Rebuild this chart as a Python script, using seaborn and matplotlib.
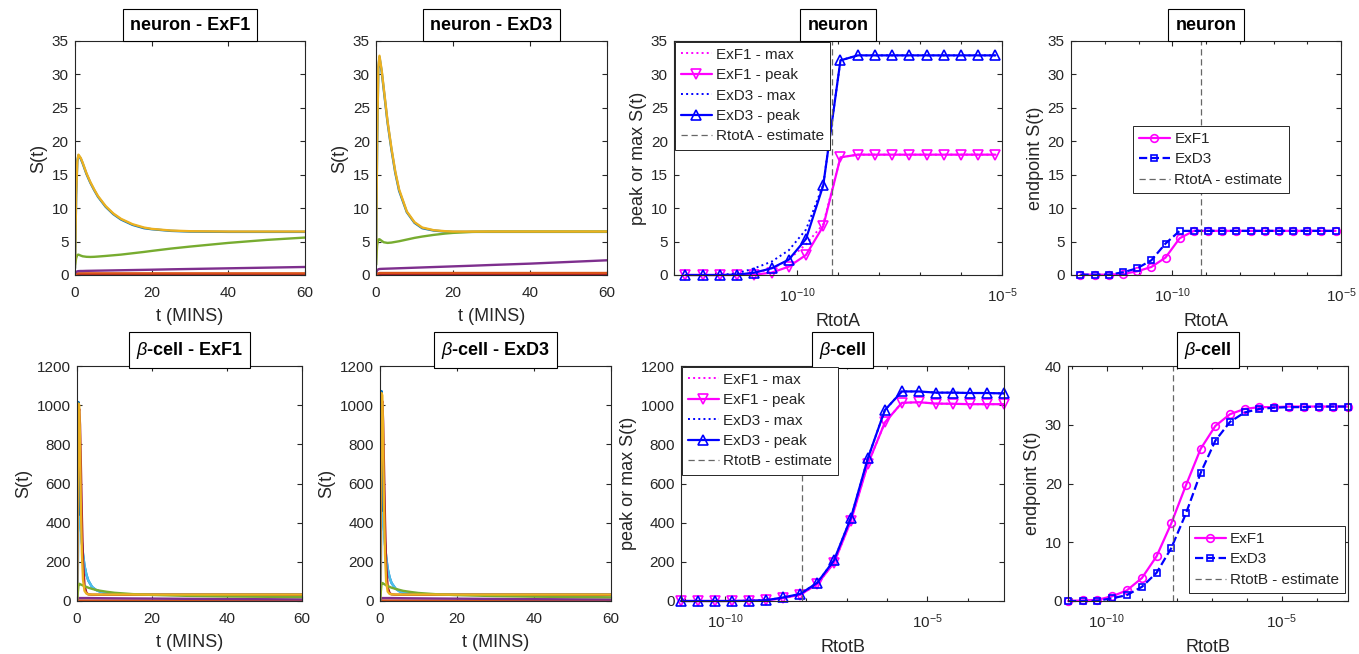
import matplotlib
matplotlib.use("Agg")
import matplotlib.pyplot as plt
import matplotlib.ticker as mticker
import numpy as np
import seaborn as sns

# ---------------------------------------------------------------- data
# time grids (minutes)
t_neuron = [0, 0.3, 0.6, 0.9, 1.5, 2, 3, 4, 5, 6, 8, 10, 12, 15, 18, 20, 25, 30, 40, 50, 60]
t_beta = [0, 0.2, 0.4, 0.6, 0.8, 1.0, 1.3, 1.6, 2, 2.5, 3, 4, 5, 6, 8, 10, 15, 20, 30, 40, 60]

# neuron, ExF1 model: S(t) traces
nf1_blue = [1.0, 12, 17, 17.9, 17.4, 16.7, 15.1, 13.8, 12.7, 11.7, 10.2, 9.1, 8.3, 7.5, 7.0, 6.85, 6.6, 6.5, 6.45, 6.45, 6.45]
nf1_orange = [0, 0.18, 0.22, 0.25, 0.25, 0.25, 0.25, 0.25, 0.25, 0.25, 0.25, 0.25, 0.25, 0.25, 0.25, 0.25, 0.25, 0.25, 0.25, 0.25, 0.25]
nf1_yellow = [1.0, 12, 17, 18.0, 17.5, 16.8, 15.2, 13.9, 12.8, 11.8, 10.3, 9.2, 8.4, 7.6, 7.1, 6.9, 6.65, 6.55, 6.5, 6.5, 6.5]
nf1_purple = [0.3, 0.45, 0.55, 0.58, 0.6, 0.6, 0.62, 0.63, 0.64, 0.65, 0.67, 0.69, 0.71, 0.74, 0.77, 0.79, 0.85, 0.9, 1.0, 1.1, 1.2]
nf1_green = [1.5, 2.5, 3.0, 3.05, 2.9, 2.8, 2.72, 2.7, 2.72, 2.76, 2.85, 2.95, 3.05, 3.25, 3.45, 3.6, 3.95, 4.25, 4.8, 5.25, 5.6]
nf1_lblue = [0, 0, 0, 0, 0, 0, 0, 0, 0, 0, 0, 0, 0, 0, 0, 0, 0, 0, 0, 0, 0]
nf1_dred = [0, 0, 0, 0, 0, 0, 0, 0, 0, 0, 0, 0, 0, 0, 0, 0, 0, 0, 0, 0, 0]

# neuron, ExD3 model
nd3_blue = [1.5, 20, 30.8, 32.6, 30.3, 27.8, 22.8, 18.8, 15.3, 12.6, 9.4, 7.8, 7.0, 6.65, 6.5, 6.45, 6.45, 6.45, 6.45, 6.45, 6.45]
nd3_orange = [0, 0.2, 0.25, 0.3, 0.3, 0.3, 0.3, 0.3, 0.3, 0.3, 0.3, 0.3, 0.3, 0.3, 0.3, 0.3, 0.3, 0.3, 0.3, 0.3, 0.3]
nd3_yellow = [1.5, 20, 31, 32.8, 30.5, 28, 23, 19, 15.5, 12.8, 9.5, 7.9, 7.1, 6.7, 6.55, 6.5, 6.5, 6.5, 6.5, 6.5, 6.5]
nd3_purple = [0.3, 0.7, 0.85, 0.9, 0.92, 0.93, 0.95, 0.97, 0.99, 1.01, 1.05, 1.09, 1.13, 1.19, 1.25, 1.29, 1.39, 1.5, 1.7, 1.95, 2.2]
nd3_green = [1.5, 4.5, 5.3, 5.35, 5.1, 4.9, 4.8, 4.85, 4.95, 5.05, 5.3, 5.55, 5.75, 6.0, 6.2, 6.3, 6.45, 6.5, 6.5, 6.5, 6.5]
nd3_lblue = [0, 0, 0, 0, 0, 0, 0, 0, 0, 0, 0, 0, 0, 0, 0, 0, 0, 0, 0, 0, 0]
nd3_dred = [0, 0.02, 0.03, 0.03, 0.03, 0.03, 0.03, 0.03, 0.03, 0.03, 0.03, 0.03, 0.03, 0.03, 0.03, 0.03, 0.03, 0.03, 0.03, 0.03, 0.03]

# beta-cell, ExF1 model
bf1_blue = [0, 650, 1016, 600, 440, 380, 300, 240, 180, 135, 105, 72, 57, 49, 40, 36, 33.5, 33, 33, 33, 33]
bf1_orange = [0, 2, 2.5, 2.5, 2.5, 2.5, 2.5, 2.5, 2.5, 2.5, 2.5, 2.5, 2.5, 2.5, 2.5, 2.5, 2.5, 2.5, 2.5, 2.5, 2.5]
bf1_yellow = [0, 560, 1008, 1000, 820, 520, 250, 110, 52, 38, 34, 33, 33, 33, 33, 33, 33, 33, 33, 33, 33]
bf1_purple = [0, 10, 15, 15, 15, 15, 15, 15, 15, 15, 15, 14.8, 14.5, 14.3, 14, 13.7, 13, 12.5, 11, 10, 8]
bf1_green = [0, 40, 80, 88, 86, 84, 82, 79, 76, 72, 68, 62, 57, 53, 47, 42, 35, 31, 26, 23, 20]
bf1_lblue = [0, 100, 400, 430, 420, 380, 300, 240, 180, 135, 105, 72, 57, 49, 40, 36, 33.5, 33, 33, 33, 33]
bf1_dred = [0, 500, 960, 980, 900, 720, 430, 200, 80, 42, 34, 32, 32, 32, 32, 32, 32, 32, 32, 32, 32]

# beta-cell, ExD3 model
bd3_blue = [0, 700, 1072, 640, 460, 380, 290, 225, 165, 120, 92, 64, 50, 43, 37, 35, 33.3, 33, 33, 33, 33]
bd3_orange = [0, 2, 2.5, 2.5, 2.5, 2.5, 2.5, 2.5, 2.5, 2.5, 2.5, 2.5, 2.5, 2.5, 2.5, 2.5, 2.5, 2.5, 2.5, 2.5, 2.5]
bd3_yellow = [0, 600, 1062, 1050, 850, 520, 240, 100, 48, 36, 34, 33, 33, 33, 33, 33, 33, 33, 33, 33, 33]
bd3_purple = [0, 10, 15, 15, 15, 15, 15, 15, 15, 15, 14.9, 14.7, 14.4, 14.2, 13.8, 13.5, 12.7, 12, 10.5, 9.3, 7.5]
bd3_green = [0, 45, 88, 92, 90, 87, 84, 80, 77, 72, 68, 62, 57, 52, 46, 41, 34, 30, 25, 22, 19]
bd3_lblue = [0, 100, 420, 450, 430, 380, 290, 225, 165, 120, 92, 64, 50, 43, 37, 35, 33.3, 33, 33, 33, 33]
bd3_dred = [0, 520, 1000, 1020, 920, 720, 410, 180, 70, 40, 34, 32, 32, 32, 32, 32, 32, 32, 32, 32, 32]

# receptor totals scanned (log10 of RtotA / RtotB)
rtotA_exp = [-12.72, -12.30, -11.88, -11.46, -11.04, -10.62, -10.20, -9.78, -9.36, -8.94,
             -8.52, -8.10, -7.68, -7.26, -6.84, -6.42, -6.00, -5.58, -5.16]
rtotA_estimate_exp = -9.15
rtotB_exp = [-11.10, -10.68, -10.26, -9.84, -9.42, -8.99, -8.57, -8.15, -7.73, -7.31,
             -6.89, -6.47, -6.05, -5.63, -5.21, -4.78, -4.36, -3.94, -3.52, -3.10]
rtotB_estimate_exp = -8.10

# neuron: peak / max / endpoint S(t) versus RtotA
peakA_exf1 = [0, 0, 0, 0, 0.05, 0.35, 1.25, 3.0, 7.3, 17.6, 18.0, 18.0, 18.0, 18.0, 18.0, 18.0, 18.0, 18.0, 18.0]
maxA_exf1 = [0, 0, 0, 0.05, 0.3, 0.9, 2.3, 4.6, 7.6, 17.6, 18.0, 18.0, 18.0, 18.0, 18.0, 18.0, 18.0, 18.0, 18.0]
peakA_exd3 = [0, 0, 0, 0.05, 0.35, 1.0, 2.3, 5.4, 13.4, 32.1, 32.85, 32.85, 32.85, 32.85, 32.85, 32.85, 32.85, 32.85, 32.85]
maxA_exd3 = [0, 0, 0, 0.25, 1.0, 2.0, 3.7, 6.8, 13.5, 32.1, 32.85, 32.85, 32.85, 32.85, 32.85, 32.85, 32.85, 32.85, 32.85]
endA_exf1 = [0.05, 0.05, 0.05, 0.15, 0.55, 1.2, 2.6, 5.5, 6.6, 6.6, 6.6, 6.6, 6.6, 6.6, 6.6, 6.6, 6.6, 6.6, 6.6]
endA_exd3 = [0.05, 0.05, 0.05, 0.4, 1.0, 2.2, 4.7, 6.6, 6.6, 6.6, 6.6, 6.6, 6.6, 6.6, 6.6, 6.6, 6.6, 6.6, 6.6]

# beta-cell: peak / max / endpoint S(t) versus RtotB
peakB_exf1 = [0, 0, 0, 0, 1, 3, 15, 32, 85, 195, 410, 700, 912, 1012, 1015, 1008, 1007, 1005, 1005, 1005]
maxB_exf1 = [0, 0, 0, 0, 1, 3, 15, 32, 85, 195, 410, 700, 912, 1012, 1015, 1008, 1007, 1005, 1005, 1005]
peakB_exd3 = [0, 0, 0, 0, 1, 4, 18, 36, 92, 208, 426, 730, 975, 1070, 1070, 1064, 1064, 1062, 1062, 1060]
maxB_exd3 = [0, 0, 0, 0, 1, 4, 18, 36, 92, 208, 426, 730, 975, 1070, 1070, 1064, 1064, 1062, 1062, 1060]
endB_exf1 = [0, 0.1, 0.2, 0.8, 1.8, 3.9, 7.6, 13.2, 19.7, 25.9, 29.8, 31.8, 32.7, 33.0, 33.0, 33.1, 33.1, 33.1, 33.1, 33.1]
endB_exd3 = [0, 0, 0.05, 0.45, 1.0, 2.4, 4.8, 9.0, 14.9, 21.8, 27.3, 30.5, 32.1, 32.7, 32.9, 33.0, 33.0, 33.1, 33.1, 33.1]

# ---------------------------------------------------------------- style
sns.set_theme(style="ticks")
plt.rcParams["font.family"] = ["Liberation Sans", "DejaVu Sans"]
plt.rcParams["mathtext.fontset"] = "custom"
plt.rcParams["mathtext.rm"] = "Liberation Sans"
plt.rcParams["mathtext.it"] = "Liberation Sans:italic"
plt.rcParams["mathtext.bf"] = "Liberation Sans:bold"

INK = (0.15, 0.15, 0.15)
C_BLUE = (0, 0.447, 0.741)
C_ORANGE = (0.85, 0.325, 0.098)
C_YELLOW = (0.929, 0.694, 0.125)
C_PURPLE = (0.494, 0.184, 0.556)
C_GREEN = (0.466, 0.674, 0.188)
C_LBLUE = (0.301, 0.745, 0.933)
C_DRED = (0.635, 0.078, 0.184)
# drawing order of the seven species traces (the yellow trace ends up on top)
TRACE_COLORS = [C_BLUE, C_LBLUE, C_DRED, C_ORANGE, C_PURPLE, C_GREEN, C_YELLOW]
MAGENTA = (1, 0, 1)
BLUE = (0, 0, 1)
GREY = (0.4, 0.4, 0.4)

W, H = 1359, 654
fig = plt.figure(figsize=(W / 100, H / 100), dpi=100)


def axes_px(x0, x1, y0, y1):
    return fig.add_axes([x0 / W, 1 - y1 / H, (x1 - x0) / W, (y1 - y0) / H])


def style_axes(ax, title, xlabel, ylabel):
    for s in ax.spines.values():
        s.set_visible(True)
        s.set_color(INK)
        s.set_linewidth(0.8)
    ax.tick_params(which="both", direction="in", top=True, right=True,
                   colors=INK, labelsize=11, width=0.8)
    ax.tick_params(axis="x", which="both", pad=8)
    ax.tick_params(axis="y", which="both", pad=4.5)
    ax.tick_params(which="major", length=3.5)
    ax.tick_params(which="minor", length=2.5)
    ax.set_xlabel(xlabel, fontsize=13, color=INK, labelpad=6)
    ax.set_ylabel(ylabel, fontsize=13, color=INK, labelpad=3)
    ax.set_title(title, fontsize=13, fontweight="bold", color="black", pad=8.2,
                 bbox=dict(boxstyle="square,pad=0.4", fc="white", ec="black", lw=0.8))


def timecourse(ax, t, series, ymax, yticks, title):
    for y, c in zip(series, TRACE_COLORS):
        sns.lineplot(x=t, y=y, ax=ax, color=c, linewidth=1.7, legend=False,
                     estimator=None, sort=False)
    ax.set_xlim(0, 60)
    ax.set_ylim(0, ymax)
    ax.set_xticks([0, 20, 40, 60])
    ax.set_yticks(yticks)
    style_axes(ax, title, "t (MINS)", "S(t)")


def log_axis(ax, lo, hi):
    ax.set_xscale("log")
    ax.set_xlim(lo, hi)
    ax.xaxis.set_major_locator(mticker.FixedLocator([1e-10, 1e-5]))
    ax.xaxis.set_major_formatter(mticker.LogFormatterSciNotation())
    minors = [10.0 ** k for k in range(-13, -2) if k not in (-10, -5)]
    ax.xaxis.set_minor_locator(mticker.FixedLocator(minors))
    ax.xaxis.set_minor_formatter(mticker.NullFormatter())


def legend(ax, anchor, loc):
    leg = ax.legend(loc=loc, bbox_to_anchor=anchor, borderaxespad=0, fontsize=11,
                    frameon=True, fancybox=False, framealpha=1, edgecolor=INK,
                    handlelength=2.0, handletextpad=0.3, labelspacing=0.42,
                    borderpad=0.4)
    leg.get_frame().set_linewidth(0.7)
    for txt in leg.get_texts():
        txt.set_color(INK)
    leg.set_zorder(10)


def peak_panel(ax, x, f1_max, f1_peak, d3_max, d3_peak, est, lo, hi, ymax, yticks,
               title, xlabel, est_label, anchor):
    ax.set_xscale("log")
    common = dict(ax=ax, estimator=None, sort=False, clip_on=False)
    sns.lineplot(x=x, y=f1_max, color=MAGENTA, linewidth=1.4, linestyle=":",
                 label="ExF1 - max", **common)
    sns.lineplot(x=x, y=f1_peak, color=MAGENTA, linewidth=1.6, marker="v",
                 markersize=6.5, markerfacecolor="none", markeredgecolor=MAGENTA,
                 markeredgewidth=1.2, label="ExF1 - peak", **common)
    sns.lineplot(x=x, y=d3_max, color=BLUE, linewidth=1.4, linestyle=":",
                 label="ExD3 - max", **common)
    sns.lineplot(x=x, y=d3_peak, color=BLUE, linewidth=1.6, marker="^",
                 markersize=6.5, markerfacecolor="none", markeredgecolor=BLUE,
                 markeredgewidth=1.2, label="ExD3 - peak", **common)
    ax.axvline(est, color=GREY, linestyle=(0, (5, 3)), linewidth=0.9, label=est_label)
    log_axis(ax, lo, hi)
    ax.set_ylim(0, ymax)
    ax.set_yticks(yticks)
    style_axes(ax, title, xlabel, "peak or max S(t)")
    legend(ax, anchor, "upper left")


def end_panel(ax, x, f1_end, d3_end, est, lo, hi, ymax, yticks, title, xlabel,
              est_label, anchor, loc):
    ax.set_xscale("log")
    common = dict(ax=ax, estimator=None, sort=False, clip_on=False)
    sns.lineplot(x=x, y=f1_end, color=MAGENTA, linewidth=1.6, marker="o",
                 markersize=5.5, markerfacecolor="none", markeredgecolor=MAGENTA,
                 markeredgewidth=1.2, label="ExF1", **common)
    sns.lineplot(x=x, y=d3_end, color=BLUE, linewidth=1.6, linestyle="--", marker="s",
                 markersize=4.5, markerfacecolor="none", markeredgecolor=BLUE,
                 markeredgewidth=1.2, label="ExD3", **common)
    ax.axvline(est, color=GREY, linestyle=(0, (5, 3)), linewidth=0.9, label=est_label)
    log_axis(ax, lo, hi)
    ax.set_ylim(0, ymax)
    ax.set_yticks(yticks)
    style_axes(ax, title, xlabel, "endpoint S(t)")
    legend(ax, anchor, loc)


# ---------------------------------------------------------------- panels
RtotA = [10.0 ** e for e in rtotA_exp]
RtotB = [10.0 ** e for e in rtotB_exp]

ax = axes_px(75, 305, 41, 275)
timecourse(ax, t_neuron, [nf1_blue, nf1_lblue, nf1_dred, nf1_orange, nf1_purple, nf1_green, nf1_yellow],
           35, range(0, 36, 5), "neuron - ExF1")

ax = axes_px(376, 607, 41, 275)
timecourse(ax, t_neuron, [nd3_blue, nd3_lblue, nd3_dred, nd3_orange, nd3_purple, nd3_green, nd3_yellow],
           35, range(0, 36, 5), "neuron - ExD3")

ax = axes_px(674, 1002, 41, 275)
peak_panel(ax, RtotA, maxA_exf1, peakA_exf1, maxA_exd3, peakA_exd3,
           10.0 ** rtotA_estimate_exp, 1e-13, 1e-5, 35, range(0, 36, 5),
           "neuron", "RtotA", "RtotA - estimate", (0.003, 0.997))

ax = axes_px(1071, 1341, 41, 275)
end_panel(ax, RtotA, endA_exf1, endA_exd3, 10.0 ** rtotA_estimate_exp, 1e-13, 1e-5,
          35, range(0, 36, 5), "neuron", "RtotA", "RtotA - estimate",
          (0.23, 0.637), "upper left")

ax = axes_px(77, 302, 366, 601)
timecourse(ax, t_beta, [bf1_blue, bf1_lblue, bf1_dred, bf1_orange, bf1_purple, bf1_green, bf1_yellow],
           1200, range(0, 1201, 200), r"$\beta$-cell - ExF1")

ax = axes_px(380, 611, 366, 601)
timecourse(ax, t_beta, [bd3_blue, bd3_lblue, bd3_dred, bd3_orange, bd3_purple, bd3_green, bd3_yellow],
           1200, range(0, 1201, 200), r"$\beta$-cell - ExD3")

ax = axes_px(681, 1004, 366, 601)
peak_panel(ax, RtotB, maxB_exf1, peakB_exf1, maxB_exd3, peakB_exd3,
           10.0 ** rtotB_estimate_exp, 10.0 ** rtotB_exp[0], 10.0 ** rtotB_exp[-1],
           1200, range(0, 1201, 200), r"$\beta$-cell", "RtotB", "RtotB - estimate",
           (0.003, 0.997))

ax = axes_px(1068, 1348, 366, 601)
end_panel(ax, RtotB, endB_exf1, endB_exd3, 10.0 ** rtotB_estimate_exp,
          10.0 ** rtotB_exp[0], 10.0 ** rtotB_exp[-1], 40, range(0, 41, 10),
          r"$\beta$-cell", "RtotB", "RtotB - estimate", (0.99, 0.034), "lower right")

fig.savefig("out.png", dpi=100)
